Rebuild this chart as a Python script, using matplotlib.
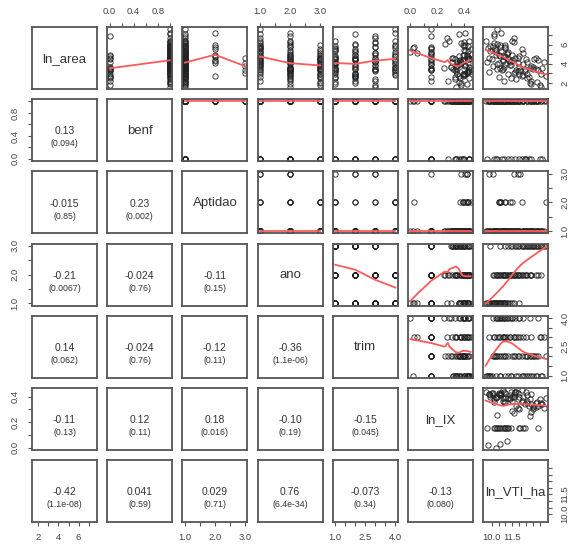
"""Scatterplot matrix with lowess smooths and correlation panels."""
import numpy as np
import matplotlib
matplotlib.use('Agg')
import matplotlib.pyplot as plt

plt.rcParams['font.family'] = ['Liberation Sans', 'DejaVu Sans']

names = ['ln_area', 'benf', 'Aptidao', 'ano', 'trim', 'ln_IX', 'ln_VTI_ha']

ln_area = [6.4, 4.2, 5.6, 3.1, 5.9, 4.5, 5.5, 7.1, 3.8, 4.9,
           2.6, 5.3, 4.0, 4.6, 6.2, 3.4, 5.8, 4.3, 2.2, 5.1,
           3.9, 6.7, 7.6, 5.2, 4.1, 6.0, 3.3, 4.8, 5.6, 2.9,
           4.4, 3.7, 5.4, 3.6, 4.7, 2.5, 4.1, 3.2, 1.9, 6.1,
           4.4, 5.2, 3.0, 4.6, 2.7, 2.9, 2.2, 3.4, 6.9, 4.9,
           3.5, 5.7, 4.2, 6.3, 2.4, 3.3, 4.5, 1.6, 5.9, 4.0,
           7.2, 3.7, 5.0, 4.3, 6.4, 3.1, 4.8, 2.8, 3.6, 3.3,
           5.3, 4.5, 3.3, 4.0, 2.6, 3.5, 2.1, 2.9, 4.8, 6.0,
           3.9, 4.6, 2.9, 5.5, 3.4, 4.2, 2.0, 3.7, 4.6, 4.4,
           3.6, 2.7, 4.9, 3.2, 5.1, 2.5, 3.8, 4.5, 1.8, 4.2]
benf = [1, 0, 1, 1, 1, 1, 1, 1, 1, 0,
        1, 1, 1, 1, 1, 0, 1, 1, 1, 1,
        1, 1, 1, 1, 1, 1, 0, 1, 1, 0,
        1, 1, 1, 1, 1, 0, 1, 0, 1, 1,
        1, 1, 1, 1, 0, 1, 0, 1, 0, 1,
        1, 1, 1, 1, 1, 1, 0, 1, 1, 1,
        1, 0, 1, 1, 1, 1, 0, 1, 1, 1,
        1, 1, 1, 1, 0, 1, 1, 1, 1, 1,
        1, 0, 1, 1, 0, 1, 1, 1, 1, 1,
        0, 1, 1, 1, 1, 1, 1, 1, 0, 1]
aptidao = [1, 1, 1, 1, 1, 1, 1, 1, 3, 1,
           1, 1, 1, 3, 1, 1, 2, 1, 1, 1,
           1, 1, 1, 1, 2, 1, 1, 1, 1, 1,
           2, 1, 1, 1, 2, 1, 3, 1, 1, 1,
           1, 1, 3, 1, 1, 1, 1, 1, 1, 2,
           1, 1, 1, 1, 1, 3, 1, 1, 1, 1,
           2, 1, 1, 2, 1, 1, 1, 1, 1, 1,
           1, 1, 1, 1, 1, 1, 1, 1, 2, 2,
           1, 1, 1, 2, 1, 1, 1, 1, 1, 1,
           1, 2, 1, 1, 1, 1, 1, 1, 1, 1]
ano = [1, 1, 1, 1, 1, 1, 1, 1, 1, 1,
       1, 1, 1, 1, 1, 1, 1, 1, 1, 1,
       1, 1, 1, 1, 1, 1, 1, 1, 1, 1,
       1, 1, 2, 2, 2, 2, 2, 2, 2, 2,
       2, 2, 2, 2, 2, 2, 2, 2, 2, 2,
       2, 2, 2, 2, 2, 2, 2, 2, 2, 2,
       2, 2, 2, 2, 2, 2, 2, 2, 2, 2,
       3, 3, 3, 3, 3, 3, 3, 3, 3, 3,
       3, 3, 3, 3, 3, 3, 3, 3, 3, 3,
       3, 3, 3, 3, 3, 3, 3, 3, 3, 3]
trim = [1, 1, 1, 1, 1, 1, 2, 2, 2, 2,
        2, 2, 2, 3, 3, 3, 3, 3, 3, 3,
        3, 3, 4, 4, 4, 4, 4, 4, 4, 4,
        4, 4, 1, 1, 1, 1, 1, 1, 1, 2,
        2, 2, 2, 2, 2, 2, 2, 2, 3, 3,
        3, 3, 3, 3, 3, 3, 3, 3, 4, 4,
        4, 4, 4, 4, 4, 4, 4, 4, 4, 4,
        1, 1, 1, 1, 1, 1, 1, 1, 1, 2,
        1, 2, 2, 1, 2, 1, 2, 2, 1, 2,
        1, 2, 2, 3, 3, 2, 3, 2, 3, 3]
ln_ix = [0.44, 0.157, 0.02, 0.42, 0.40, 0.43, 0.157, 0.36, 0.41, 0.39,
         0.157, 0.43, 0.36, 0.42, 0.38, 0.40, 0.03, 0.37, 0.157, 0.05,
         0.41, 0.27, 0.157, 0.0, 0.43, 0.41, 0.157, 0.36, 0.157, 0.39,
         0.37, 0.30, 0.40, 0.157, 0.43, 0.44, 0.38, 0.34, 0.42, 0.26,
         0.39, 0.157, 0.42, 0.31, 0.36, 0.41, 0.28, 0.35, 0.157, 0.42,
         0.45, 0.157, 0.38, 0.40, 0.33, 0.157, 0.44, 0.34, 0.43, 0.157,
         0.41, 0.44, 0.157, 0.39, 0.29, 0.44, 0.157, 0.40, 0.25, 0.33,
         0.41, 0.157, 0.44, 0.37, 0.33, 0.32, 0.36, 0.35, 0.42, 0.39,
         0.157, 0.44, 0.40, 0.45, 0.157, 0.35, 0.38, 0.30, 0.32, 0.157,
         0.34, 0.39, 0.40, 0.43, 0.157, 0.37, 0.34, 0.33, 0.38, 0.31]
ln_vti_ha = [9.55, 9.62, 9.70, 9.78, 9.85, 10.0, 10.25, 10.15, 10.1, 10.3,
             10.5, 10.7, 11.0, 9.8, 10.2, 10.4, 10.6, 10.8, 10.9, 11.1,
             11.3, 11.6, 10.4, 10.3, 10.5, 10.6, 10.75, 10.9, 11.0, 11.2,
             11.5, 12.0, 10.3, 10.6, 11.0, 11.4, 11.9, 12.4, 12.9, 10.4,
             10.8, 11.2, 11.6, 11.9, 12.2, 12.6, 12.9, 13.2, 10.2, 10.5,
             10.8, 11.0, 11.3, 11.6, 11.8, 12.1, 12.5, 13.6, 10.1, 10.4,
             10.7, 10.9, 11.1, 11.3, 11.5, 11.7, 12.0, 12.3, 12.8, 13.4,
             9.85, 11.2, 11.8, 12.3, 12.7, 13.0, 13.3, 13.6, 10.6, 11.0,
             11.4, 11.7, 12.0, 12.2, 12.4, 12.6, 12.8, 13.0, 13.2, 13.4,
             13.7, 13.95, 11.5, 11.9, 12.3, 12.6, 12.9, 13.1, 13.5, 13.8]

# correlation text for the lower panels, row by row
corr_r = [[], ['0.13'], ['-0.015', '0.23'], ['-0.21', '-0.024', '-0.11'],
          ['0.14', '-0.024', '-0.12', '-0.36'],
          ['-0.11', '0.12', '0.18', '-0.10', '-0.15'],
          ['-0.42', '0.041', '0.029', '0.76', '-0.073', '-0.13']]
corr_p = [[], ['0.094'], ['0.85', '0.002'], ['0.0067', '0.76', '0.15'],
          ['0.062', '0.76', '0.11', '1.1e-06'],
          ['0.13', '0.11', '0.016', '0.19', '0.045'],
          ['1.1e-08', '0.59', '0.71', '6.4e-34', '0.34', '0.080']]

# axis ticks and the labels that show
tick_at = [[2, 3, 4, 5, 6, 7],
           [0.0, 0.2, 0.4, 0.6, 0.8, 1.0],
           [1.0, 1.5, 2.0, 2.5, 3.0],
           [1.0, 1.5, 2.0, 2.5, 3.0],
           [1.0, 1.5, 2.0, 2.5, 3.0, 3.5, 4.0],
           [0.0, 0.1, 0.2, 0.3, 0.4],
           [10.0, 10.5, 11.0, 11.5, 12.0, 12.5, 13.0, 13.5]]
tick_lab = [['2', '', '4', '', '6', ''],
            ['0.0', '', '0.4', '', '0.8', ''],
            ['1.0', '', '2.0', '', '3.0'],
            ['1.0', '', '2.0', '', '3.0'],
            ['1.0', '', '', '2.5', '', '', '4.0'],
            ['0.0', '', '0.2', '', '0.4'],
            ['10.0', '', '', '11.5', '', '', '', '']]


def lowess(x, y, f=2/3, iters=3):
    """Rough port of R's lowess (no delta shortcut)."""
    o = np.argsort(x, kind='stable')
    x = np.asarray(x, float)[o]
    y = np.asarray(y, float)[o]
    n = len(x)
    ns = max(min(int(f * n + 1e-7), n), 2)
    rng = x.max() - x.min()
    rw = np.ones(n)
    ys = np.empty(n)
    for k in range(iters + 1):
        for i in range(n):
            d = np.abs(x - x[i])
            h = np.sort(d)[ns - 1]
            if h > 0:
                u = d / h
                w = np.where(u < 1, (1 - u ** 3) ** 3, 0.0)
            else:
                w = (d == 0).astype(float)
            w = w * rw
            sw = w.sum()
            if sw <= 0:
                ys[i] = y[i]
                continue
            w = w / sw
            xm = (w * x).sum()
            vx = (w * (x - xm) ** 2).sum()
            ym = (w * y).sum()
            if np.sqrt(vx) > 0.001 * rng:
                b = (w * (x - xm) * y).sum() / vx
                ys[i] = ym + b * (x[i] - xm)
            else:
                ys[i] = ym
        if k == iters:
            break
        res = y - ys
        cmad = 6 * np.median(np.abs(res))
        if cmad < 1e-7 * np.mean(np.abs(y)):
            break
        u = np.abs(res) / cmad
        rw = np.where(u < 1, (1 - u ** 2) ** 2, 0.0)
    return x, ys


data = [np.array(v, float) for v in
        [ln_area, benf, aptidao, ano, trim, ln_ix, ln_vti_ha]]
lims = []
for v in data:
    span = v.max() - v.min()
    lims.append((v.min() - 0.04 * span, v.max() + 0.04 * span))

W, H = 573, 549
fig = plt.figure(figsize=(W / 100, H / 100), dpi=100)
fig.patch.set_facecolor('white')

n = len(names)
for i in range(n):
    for j in range(n):
        left = 32 + j * 75.2
        top = 27 + i * 72.2
        ax = fig.add_axes([left / W, 1 - (top + 62) / H, 65 / W, 62 / H])
        ax.set_xlim(lims[j])
        ax.set_ylim(lims[i])
        ax.set_xticks(tick_at[j])
        ax.set_xticklabels(tick_lab[j])
        ax.set_yticks(tick_at[i])
        ax.set_yticklabels(tick_lab[i], rotation=90, va='center')
        ax.tick_params(bottom=False, top=False, left=False, right=False,
                       labelbottom=False, labeltop=False,
                       labelleft=False, labelright=False,
                       length=3, width=0.8, color='#555',
                       labelcolor='#444', labelsize=6.8)
        ax.tick_params(axis='x', pad=5)
        ax.tick_params(axis='y', pad=6)
        for s in ax.spines.values():
            s.set_color('#555')
            s.set_linewidth(1.3)

        if i == 0 and j % 2 == 1:
            ax.tick_params(top=True, labeltop=True)
        if i == n - 1 and j % 2 == 0:
            ax.tick_params(bottom=True, labelbottom=True)
        if j == 0 and i % 2 == 1:
            ax.tick_params(left=True, labelleft=True)
        if j == n - 1 and i % 2 == 0:
            ax.tick_params(right=True, labelright=True)

        if i == j:
            ax.text(0.5, 0.49, names[i], transform=ax.transAxes,
                    ha='center', va='center', fontsize=9.5, color='#333')
        elif j > i:
            ax.plot(data[j], data[i], 'o', mfc='none', mec='#222',
                    ms=3.8, mew=0.6)
            lx, ly = lowess(data[j], data[i])
            ax.plot(lx, ly, color='#ff5a5a', lw=1.3)
        else:
            ax.text(0.5, 0.48, corr_r[i][j], transform=ax.transAxes,
                    ha='center', va='center', fontsize=7.5, color='#333')
            ax.text(0.5, 0.28, '(' + corr_p[i][j] + ')',
                    transform=ax.transAxes, ha='center', va='center',
                    fontsize=6.3, color='#333')

fig.savefig('out.png', dpi=100)
